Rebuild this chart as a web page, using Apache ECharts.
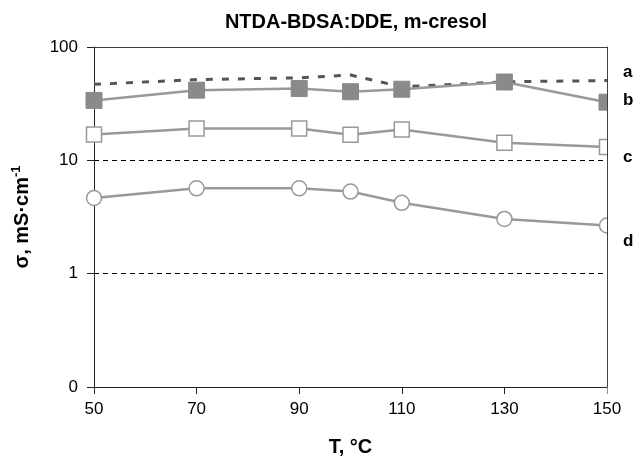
<!DOCTYPE html>
<html>
<head>
<meta charset="utf-8">
<script src="https://cdn.jsdelivr.net/npm/echarts@6/dist/echarts.min.js"></script>
<style>html,body{margin:0;padding:0;background:#fff}#c{width:636px;height:462px}</style>
</head>
<body>
<div id="c"></div>
<script>
var temps = [50, 70, 90, 100, 110, 130, 150];
var aVals = [46.8, 51.6, 53.4, 56.6, 44.5, 49.3, 50.6];
var bVals = [33.8, 41.6, 43.0, 40.3, 42.4, 49.1, 32.6];
var cVals = [16.9, 19.1, 19.1, 16.8, 18.7, 14.3, 13.1];
var dVals = [4.65, 5.66, 5.66, 5.3, 4.22, 3.04, 2.66];
var xTicks = [50, 70, 90, 110, 130, 150];
var curveNames = ['a', 'b', 'c', 'd'];

function pairs(vals) { return temps.map(function (t, i) { return [t, vals[i]]; }); }

var chart = echarts.init(document.getElementById('c'), null, { renderer: 'canvas' });
var font = 'Liberation Sans, Arial, sans-serif';
var labelYs = [72, 100, 157, 241];
chart.setOption({
  animation: false,
  backgroundColor: '#fff',
  textStyle: { fontFamily: font },
  title: {
    text: 'NTDA-BDSA:DDE, m-cresol',
    left: 351, top: 7, textAlign: 'center',
    textStyle: { fontSize: 20, fontWeight: 'bold', color: '#000', fontFamily: font }
  },
  grid: { left: 94, right: 29, top: 47, bottom: 63, show: false },
  xAxis: [{
    type: 'value', min: 50, max: 150, z: 5,
    name: 'T, °C', nameLocation: 'middle', nameGap: 50,
    nameTextStyle: { fontSize: 20, fontWeight: 'bold', color: '#000', fontFamily: font },
    axisLine: { lineStyle: { color: '#222', width: 1 } },
    axisTick: { show: true, length: 7, customValues: xTicks, lineStyle: { color: '#222' } },
    axisLabel: { customValues: xTicks, fontSize: 17, color: '#000', margin: 14, fontFamily: font },
    splitLine: { show: false }
  }, {
    type: 'value', min: 50, max: 150, position: 'top', z: 5,
    axisLine: { show: true, lineStyle: { color: '#404040', width: 1 } },
    axisTick: { show: false }, axisLabel: { show: false }, splitLine: { show: false }
  }],
  yAxis: [{
    type: 'log', logBase: 10, min: 0.1, max: 100,
    name: 'σ, mS·cm{sup|-1}', nameLocation: 'middle', nameGap: 60, nameRotate: 90,
    nameTextStyle: { fontSize: 20, fontWeight: 'bold', color: '#000', fontFamily: font, lineHeight: 24,
      rich: { sup: { fontSize: 13, fontWeight: 'bold', verticalAlign: 'top', lineHeight: 24, color: '#000', fontFamily: font } } },
    axisLine: { show: true, lineStyle: { color: '#222', width: 1 } },
    axisTick: { show: true, length: 7, lineStyle: { color: '#222' } },
    axisLabel: { fontSize: 17, color: '#000', margin: 16, fontFamily: font,
      formatter: function (v) { return v < 0.5 ? '0' : String(Math.round(v)); } },
    splitLine: { show: true, lineStyle: { color: '#000', width: 1, type: [5, 4] } },
    minorTick: { show: false }
  }, {
    type: 'log', logBase: 10, min: 0.1, max: 100, position: 'right', z: 102,
    axisLine: { show: true, lineStyle: { color: '#404040', width: 1 } },
    axisTick: { show: false }, axisLabel: { show: false }, splitLine: { show: false }
  }],
  series: [
    { name: 'a', type: 'line', data: pairs(aVals), symbol: 'none', z: 3,
      lineStyle: { color: '#555', width: 3, type: [7, 9] } },
    { name: 'b', type: 'line', data: pairs(bVals), symbol: 'rect', symbolSize: 16, z: 4,
      lineStyle: { color: '#999', width: 2.5 },
      itemStyle: { color: '#8a8a8a', borderColor: '#8a8a8a', borderWidth: 1 } },
    { name: 'c', type: 'line', data: pairs(cVals), symbol: 'rect', symbolSize: 15, z: 4,
      lineStyle: { color: '#999', width: 2.5 },
      itemStyle: { color: '#fff', borderColor: '#999', borderWidth: 1.5 } },
    { name: 'd', type: 'line', data: pairs(dVals), symbol: 'circle', symbolSize: 15, z: 4,
      lineStyle: { color: '#999', width: 2.5 },
      itemStyle: { color: '#fff', borderColor: '#999', borderWidth: 1.5 } }
  ],
  graphic: [
    { type: 'rect', shape: { x: 607.5, y: 40, width: 12, height: 358 }, style: { fill: '#fff' }, z: 100 }
  ].concat(curveNames.map(function (n, i) {
    return { type: 'text', x: 623, y: labelYs[i], z: 101,
      style: { text: n, fontSize: 17, fontWeight: 'bold', fill: '#000', fontFamily: font, textVerticalAlign: 'middle' } };
  }))
});
</script>
</body>
</html>
